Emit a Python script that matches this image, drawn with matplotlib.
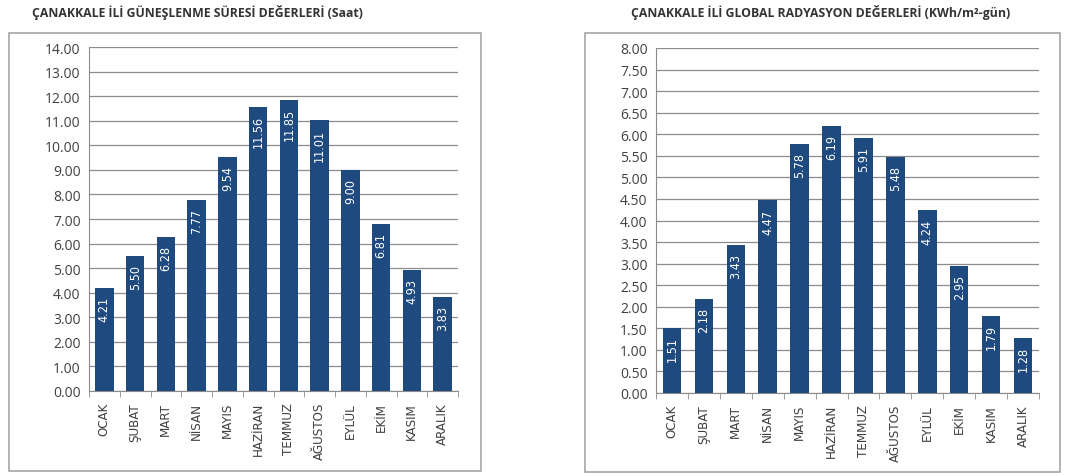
import matplotlib
matplotlib.use("Agg")
import matplotlib.pyplot as plt
from matplotlib.patches import Rectangle
from matplotlib import font_manager
import numpy as np

months = ["OCAK", "ŞUBAT", "MART", "NİSAN", "MAYIS", "HAZİRAN",
          "TEMMUZ", "AĞUSTOS", "EYLÜL", "EKİM", "KASIM", "ARALIK"]
sunshine_hours = [4.21, 5.50, 6.28, 7.77, 9.54, 11.56, 11.85, 11.01, 9.00, 6.81, 4.93, 3.83]
radiation = [1.51, 2.18, 3.43, 4.47, 5.78, 6.19, 5.91, 5.48, 4.24, 2.95, 1.79, 1.28]

title_left = "ÇANAKKALE İLİ GÜNEŞLENME SÜRESİ DEĞERLERİ (Saat)"
title_right = "ÇANAKKALE İLİ GLOBAL RADYASYON DEĞERLERİ (KWh/m²-gün)"

W, H = 1089, 477
BAR = "#1f4a80"
GRID = "#8c8c8c"
TXT = "#404040"

installed = {f.name for f in font_manager.fontManager.ttflist}
NARROW = [f for f in ["Liberation Sans Narrow", "DejaVu Sans Condensed"] if f in installed] + ["DejaVu Sans"]
NARROW_STRETCH = "normal" if NARROW[0] == "Liberation Sans Narrow" else "condensed"

fig = plt.figure(figsize=(W / 100, H / 100), dpi=100)
fig.patch.set_facecolor("white")


def px_axes(x0, y0, x1, y1):
    return fig.add_axes([x0 / W, 1 - y1 / H, (x1 - x0) / W, (y1 - y0) / H])


def panel(ax, values, ymax, step, width):
    x = np.arange(len(values))
    ax.bar(x, values, width=width, color=BAR, zorder=3)
    ax.set_xlim(-0.5, len(values) - 0.5)
    ax.set_ylim(0, ymax)
    ticks = np.arange(0, ymax + step / 2, step)
    ax.set_yticks(ticks)
    ax.set_yticklabels([f"{t:.2f}" for t in ticks], fontsize=10, color=TXT,
                       family=["Open Sans", "DejaVu Sans"])
    ax.yaxis.grid(True, color=GRID, linewidth=0.9, zorder=0)
    ax.tick_params(axis="y", length=0, pad=6)
    ax.set_xticks(x)
    ax.set_xticklabels(months, rotation=90, fontsize=9.5, color=TXT, family=NARROW,
                       fontstretch=NARROW_STRETCH)
    ax.tick_params(axis="x", length=0, pad=8)
    ax.set_xticks(np.arange(-0.5, len(values)), minor=True)
    ax.tick_params(axis="x", which="minor", length=4, color=GRID, direction="out")
    for s in ["top", "right"]:
        ax.spines[s].set_visible(False)
    ax.spines["left"].set_color(GRID)
    ax.spines["bottom"].set_color(GRID)
    for xi, v in zip(x, values):
        ax.annotate(f"{v:.2f}", (xi, v), xytext=(0, -6), textcoords="offset points",
                    rotation=90, ha="center", va="top", color="white",
                    fontsize=9, family=NARROW, fontstretch=NARROW_STRETCH, zorder=4)


# frames around each chart
for (x0, y0, x1, y1) in [(9, 34, 481, 472), (585, 34, 1060, 473)]:
    fig.patches.append(Rectangle((x0 / W, 1 - y1 / H), (x1 - x0) / W, (y1 - y0) / H,
                                 transform=fig.transFigure, fill=False,
                                 edgecolor="#a6a6a6", linewidth=1.2))

ax1 = px_axes(89, 48, 458, 392)
panel(ax1, sunshine_hours, 14, 1, 0.6)
ax2 = px_axes(656, 49, 1039, 394)
panel(ax2, radiation, 8, 0.5, 0.58)

fig.text(197 / W, 1 - 13 / H, title_left, ha="center", va="center", fontsize=8.8,
         fontweight="bold", color="#333333", family=["Open Sans", "DejaVu Sans"])
fig.text(821 / W, 1 - 13 / H, title_right, ha="center", va="center", fontsize=8.8,
         fontweight="bold", color="#333333", family=["Open Sans", "DejaVu Sans"])

fig.savefig("out.png", dpi=100, facecolor="white")
